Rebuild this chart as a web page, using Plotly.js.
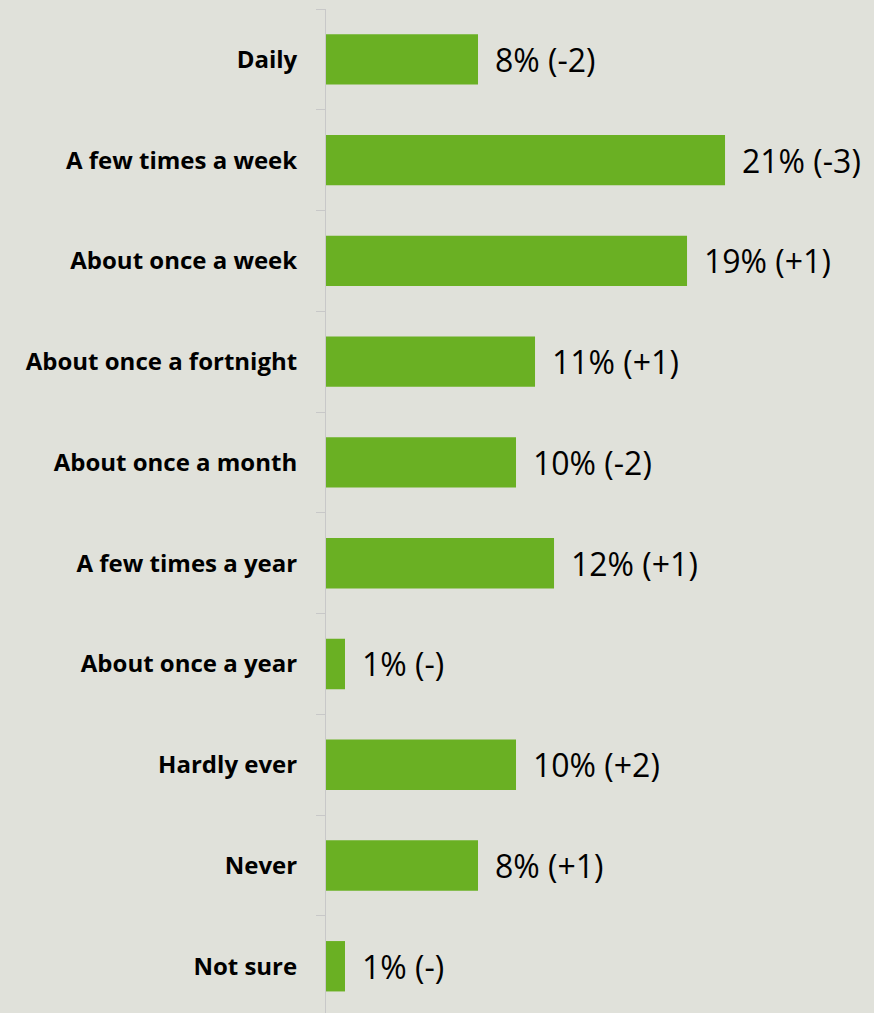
<!DOCTYPE html>
<html>
<head>
<meta charset="utf-8">
<script src="https://cdn.plot.ly/plotly-3.0.1.min.js"></script>
<style>html,body{margin:0;padding:0;background:#e0e1da;}#chart{width:874px;height:1013px;}</style>
</head>
<body>
<div id="chart"></div>
<script>
const categories = ["Daily","A few times a week","About once a week","About once a fortnight","About once a month","A few times a year","About once a year","Hardly ever","Never","Not sure"];
const values = [8,21,19,11,10,12,1,10,8,1];
const changes = ["-2","-3","+1","+1","-2","+1","-","+2","+1","-"];
const valueLabels = values.map((v,i)=>v+"% ("+changes[i]+")");

const trace = {
  type: "bar",
  orientation: "h",
  y: categories,
  x: values,
  marker: {color: "#6ab023"},
  hoverinfo: "none"
};
const annotations = categories.map((c,i)=>({
  x: values[i], y: c, xref: "x", yref: "y",
  text: valueLabels[i], showarrow: false,
  xanchor: "left", xshift: 15,
  font: {family: "Open Sans, sans-serif", size: 32, color: "#000"}
}));
const layout = {
  width: 874, height: 1013,
  paper_bgcolor: "#e0e1da", plot_bgcolor: "#e0e1da",
  margin: {l: 326, r: 0, t: 9, b: 0, pad: 0},
  bargap: 0.5,
  showlegend: false,
  xaxis: {range: [0, 28.84], visible: false, fixedrange: true},
  yaxis: {
    type: "category",
    categoryorder: "array", categoryarray: categories,
    range: [9.464, -0.5],
    showline: true, linecolor: "#c8c8c8", linewidth: 1,
    ticks: "outside", tickson: "boundaries", ticklen: 9, tickcolor: "#c8c8c8",
    showgrid: false, zeroline: false,
    tickfont: {family: "Open Sans, sans-serif", size: 24, color: "#000", weight: "bold"},
    ticklabelstandoff: 23
  },
  annotations: annotations
};
Plotly.newPlot("chart", [trace], layout, {displayModeBar: false, staticPlot: true});
</script>
</body>
</html>
